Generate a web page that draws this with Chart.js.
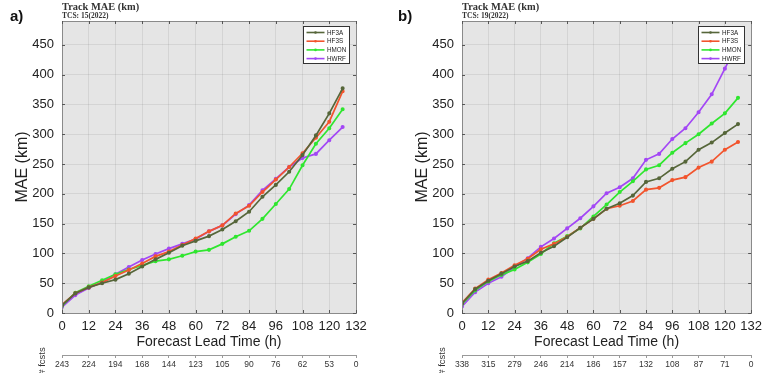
<!DOCTYPE html>
<html>
<head>
<meta charset="utf-8">
<script src="https://cdn.jsdelivr.net/npm/chart.js@4.4.1/dist/chart.umd.min.js"></script>
<style>
  body { margin: 0; background: #fff; width: 768px; height: 373px; overflow: hidden; position: relative; }
  .panel { position: absolute; top: 0; width: 384px; height: 373px; }
</style>
</head>
<body>
<div class="panel" style="left:0"><canvas id="chartA" width="384" height="373"></canvas></div>
<div class="panel" style="left:384px"><canvas id="chartB" width="384" height="373"></canvas></div>
<script>
/* ------------------------------
   DATA
--------------------------------*/
const leadTimes = [0, 6, 12, 18, 24, 30, 36, 42, 48, 54, 60, 66, 72, 78, 84, 90, 96, 102, 108, 114, 120, 126];
const modelNames = ["HF3A", "HF3S", "HMON", "HWRF"];

// panel a) TCS: 15(2022)
const hf3aA = [13, 33, 43, 50, 56, 66, 78, 90, 101, 113, 121, 129, 140, 154, 170, 195, 215, 237, 265, 298, 335, 377];
const hf3sA = [14, 33, 43, 51, 62, 72, 83, 95, 103, 114, 125, 137, 147, 167, 180, 203, 224, 245, 268, 294, 321, 372];
const hmonA = [12, 34, 45, 55, 65, 73, 80, 87, 90, 96, 103, 106, 116, 128, 138, 158, 183, 208, 248, 284, 310, 342];
const hwrfA = [10, 30, 42, 52, 65, 77, 89, 99, 108, 116, 124, 137, 147, 166, 181, 206, 225, 245, 260, 267, 290, 312];
const fcstsA = [243, 224, 194, 168, 144, 123, 105, 90, 76, 62, 53, 0];

// panel b) TCS: 19(2022)
const hf3aB = [16, 40, 54, 66, 78, 87, 101, 112, 127, 143, 158, 175, 184, 197, 220, 226, 242, 254, 274, 286, 302, 317];
const hf3sB = [17, 41, 56, 67, 80, 91, 107, 116, 128, 143, 158, 175, 180, 188, 207, 210, 223, 228, 244, 254, 274, 287];
const hmonB = [15, 38, 53, 64, 73, 85, 99, 117, 129, 142, 162, 182, 203, 221, 241, 248, 269, 285, 300, 318, 335, 361];
const hwrfB = [11, 35, 50, 61, 77, 92, 111, 125, 142, 159, 179, 201, 211, 226, 257, 267, 292, 310, 337, 367, 410, 455];
const fcstsB = [338, 315, 279, 246, 214, 186, 157, 132, 108, 87, 71, 0];

const lineColors = ["#56663a", "#f2542d", "#2fe62f", "#a347f5"];

Chart.defaults.font.family = "'Liberation Sans', Arial, sans-serif";
Chart.defaults.color = "#222";

/* ------------------------------
   DECORATION PLUGIN (frame, ticks, legend, titles)
--------------------------------*/
const panelDeco = {
    id: "panelDeco",
    beforeDraw(chart) {
        const { ctx, chartArea: a } = chart;
        ctx.save();
        ctx.fillStyle = "#e5e5e5";
        ctx.fillRect(a.left, a.top, a.right - a.left, a.bottom - a.top);
        ctx.restore();
    },
    afterDatasetsDraw(chart, args, opts) {
        const { ctx, chartArea: a, scales } = chart;
        ctx.save();

        // box
        ctx.strokeStyle = "#8a8a8a";
        ctx.lineWidth = 1;
        ctx.strokeRect(Math.round(a.left) + 0.5, Math.round(a.top) + 0.5,
            Math.round(a.right - a.left), Math.round(a.bottom - a.top));

        // inward tick marks
        ctx.strokeStyle = "#555";
        ctx.beginPath();
        scales.x.ticks.forEach(t => {
            const px = Math.round(scales.x.getPixelForValue(t.value)) + 0.5;
            ctx.moveTo(px, a.bottom); ctx.lineTo(px, a.bottom - 3);
            ctx.moveTo(px, a.top); ctx.lineTo(px, a.top + 3);
        });
        scales.y.ticks.forEach(t => {
            const py = Math.round(scales.y.getPixelForValue(t.value)) + 0.5;
            ctx.moveTo(a.left, py); ctx.lineTo(a.left + 3, py);
            ctx.moveTo(a.right, py); ctx.lineTo(a.right - 3, py);
        });
        ctx.stroke();

        // legend box
        const bw = 46, bh = 37;
        const bx = Math.round(a.right - 7 - bw) + 0.5, by = Math.round(a.top + 5) + 0.5;
        ctx.fillStyle = "#fff";
        ctx.fillRect(bx, by, bw, bh);
        ctx.strokeStyle = "#333";
        ctx.strokeRect(bx, by, bw, bh);
        ctx.font = "6.3px 'Liberation Sans', Arial, sans-serif";
        ctx.textBaseline = "middle";
        ctx.textAlign = "left";
        chart.data.datasets.forEach((ds, i) => {
            const ry = by + 6 + i * 8.7;
            ctx.strokeStyle = ds.borderColor;
            ctx.lineWidth = 1.6;
            ctx.beginPath();
            ctx.moveTo(bx + 3, ry); ctx.lineTo(bx + 21, ry);
            ctx.stroke();
            ctx.fillStyle = ds.borderColor;
            ctx.beginPath();
            ctx.arc(bx + 12, ry, 1.3, 0, Math.PI * 2);
            ctx.fill();
            ctx.fillStyle = "#222";
            ctx.fillText(ds.label, bx + 23.5, ry + 0.5);
        });

        // titles
        ctx.fillStyle = "#333";
        ctx.font = "bold 10.4px 'Liberation Serif', 'Times New Roman', serif";
        ctx.textBaseline = "alphabetic";
        ctx.fillText("Track MAE (km)", a.left, 9.5);
        ctx.font = "bold 7.5px 'Liberation Serif', 'Times New Roman', serif";
        ctx.fillText(opts.sub, a.left, 17.5);

        // panel letter
        ctx.fillStyle = "#111";
        ctx.font = "bold 15px 'Liberation Sans', Arial, sans-serif";
        ctx.fillText(opts.letter, opts.letterX, 21);

        // "# fcsts" label
        ctx.translate(a.left - 20, 361);
        ctx.rotate(-Math.PI / 2);
        ctx.fillStyle = "#333";
        ctx.font = "9.5px 'Liberation Sans', Arial, sans-serif";
        ctx.textAlign = "center";
        ctx.textBaseline = "middle";
        ctx.fillText("# fcsts", 0, 0);

        ctx.restore();
    }
};

/* ------------------------------
   CHART BUILDER
--------------------------------*/
function makeChart(id, series, fcsts, deco, padding) {
    const datasets = modelNames.map((name, i) => ({
        label: name,
        data: leadTimes.map((h, k) => ({ x: h, y: series[i][k] })),
        borderColor: lineColors[i],
        backgroundColor: lineColors[i],
        borderWidth: 1.7,
        pointRadius: 1.2,
        pointHoverRadius: 0,
        tension: 0
    }));

    return new Chart(document.getElementById(id), {
        type: "line",
        data: { datasets: datasets },
        options: {
            responsive: false,
            animation: false,
            layout: { padding: padding },
            plugins: {
                legend: { display: false },
                tooltip: { enabled: false },
                panelDeco: deco
            },
            scales: {
                x: {
                    type: "linear",
                    min: 0, max: 132,
                    ticks: { stepSize: 12, autoSkip: false, maxRotation: 0, padding: 6, font: { size: 13 }, color: "#222" },
                    grid: { color: "rgba(0,0,0,0.07)", drawTicks: false },
                    border: { display: false },
                    title: { display: true, text: "Forecast Lead Time (h)", font: { size: 14 }, color: "#222", padding: { top: 0, bottom: 4 } },
                    afterFit: s => { s.height = 42; }
                },
                x2: {
                    type: "linear",
                    position: "bottom",
                    weight: 1,
                    min: 0, max: 132,
                    ticks: {
                        stepSize: 12, autoSkip: false, maxRotation: 0, padding: 2,
                        font: { size: 8.5 }, color: "#333",
                        callback: v => fcsts[Math.round(v / 12)]
                    },
                    grid: { drawOnChartArea: false, drawTicks: true, tickLength: 3, color: "#999" },
                    border: { display: true, color: "#999" },
                    afterFit: s => { s.height = 18; }
                },
                y: {
                    min: 0, max: 490,
                    ticks: { stepSize: 50, includeBounds: false, padding: 8, font: { size: 13 }, color: "#222" },
                    grid: { color: "rgba(0,0,0,0.07)", drawTicks: false },
                    border: { display: false },
                    title: { display: true, text: "MAE (km)", font: { size: 16 }, color: "#222", padding: { top: 13, bottom: 0 } },
                    afterFit: s => { s.width = 62; }
                }
            }
        },
        plugins: [panelDeco]
    });
}

makeChart("chartA", [hf3aA, hf3sA, hmonA, hwrfA], fcstsA,
    { letter: "a)", letterX: 10, sub: "TCS: 15(2022)" },
    { left: 0, right: 28, top: 21, bottom: 0 });

makeChart("chartB", [hf3aB, hf3sB, hmonB, hwrfB], fcstsB,
    { letter: "b)", letterX: 14, sub: "TCS: 19(2022)" },
    { left: 16, right: 11, top: 21, bottom: 0 });
</script>
</body>
</html>
